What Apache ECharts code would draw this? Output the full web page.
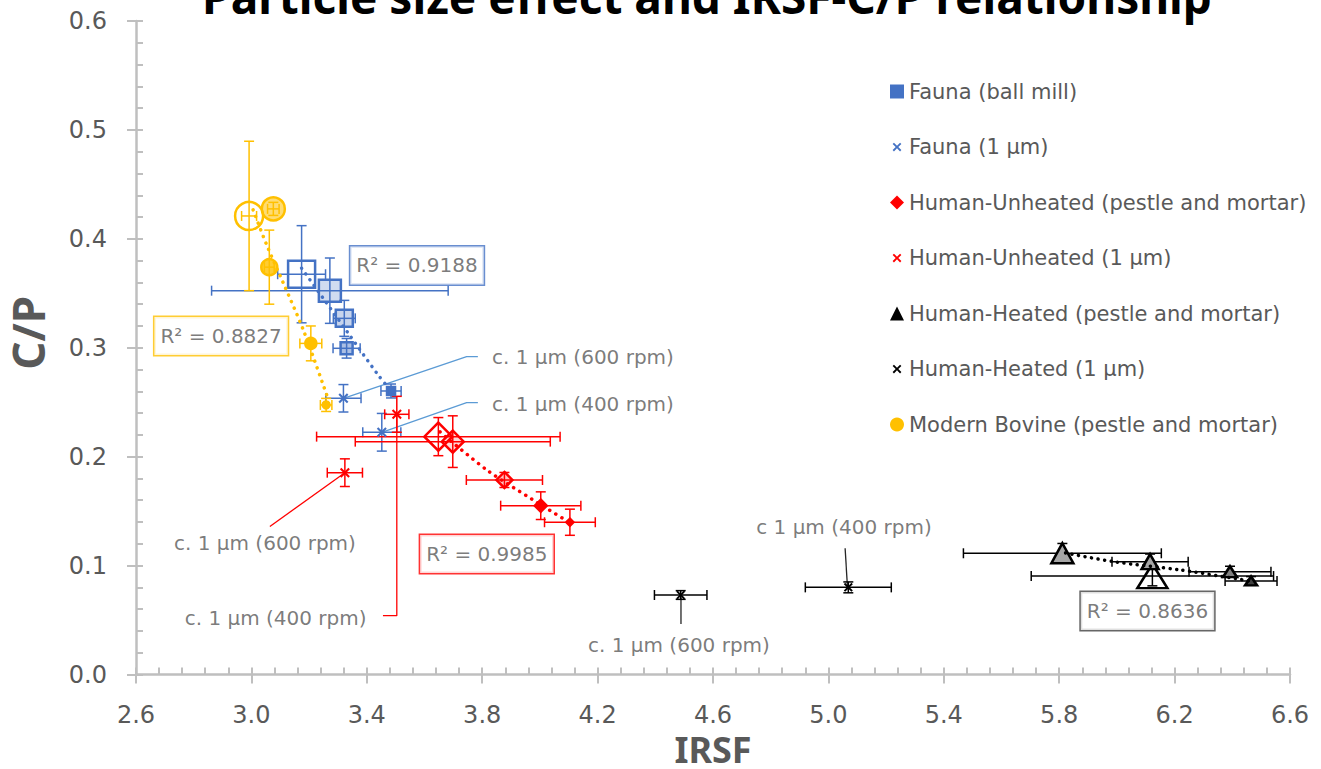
<!DOCTYPE html>
<html>
<head>
<meta charset="utf-8">
<title>Particle size effect and IRSF-C/P relationship</title>
<script src="https://cdn.jsdelivr.net/npm/echarts@6.0.0/dist/echarts.min.js"></script>
<style>
html, body { margin: 0; padding: 0; background: #fff; }
#container { width: 1321px; height: 769px; }
</style>
</head>
<body>
<div id="container"></div>
<script>
// rows are [IRSF, C/P, IRSF error, C/P error]
var faunaBallMill = [
    [3.174, 0.3675, 0.083, 0.0446],
    [3.272, 0.3524, 0.410, 0.030],
    [3.322, 0.327, 0.038, 0.0165],
    [3.330, 0.2995, 0.047, 0.009],
    [3.484, 0.2603, 0.035, 0.0064]
];
var fauna1um = [
    [3.319, 0.2536, 0.061, 0.0126],
    [3.452, 0.2224, 0.066, 0.0173]
];
var unheatedPM = [
    [3.648, 0.2184, 0.422, 0.0175],
    [3.698, 0.2138, 0.338, 0.0237],
    [3.877, 0.1786, 0.132, 0.0069],
    [4.003, 0.155, 0.139, 0.0127],
    [4.104, 0.1398, 0.088, 0.012]
];
var unheated1um = [
    [3.504, 0.2389, 0.042, 0.0165],
    [3.324, 0.1853, 0.061, 0.0127]
];
var heatedPM = [
    [5.811, 0.1113, 0.343, 0.009],
    [6.123, 0.0904, 0.420, 0.009],
    [6.115, 0.1036, 0.132, 0.007],
    [6.392, 0.0944, 0.142, 0.005],
    [6.465, 0.0859, 0.090, 0.004]
];
var heated1um = [
    [4.488, 0.073, 0.091, 0.004],
    [5.069, 0.080, 0.149, 0.005]
];
var bovinePM = [
    [2.992, 0.421, 0.026, 0.0686],
    [3.076, 0.4275, 0.020, 0.006],
    [3.062, 0.374, 0.017, 0.034],
    [3.206, 0.304, 0.038, 0.016],
    [3.259, 0.2475, 0.020, 0.006]
];

// dotted trend lines
var faunaTrend = [[3.174, 0.373], [3.248, 0.3457], [3.335, 0.3136], [3.439, 0.2751], [3.487, 0.2595]];
var unheatedTrend = [[3.654, 0.2227], [3.816, 0.1878], [3.977, 0.1602], [4.098, 0.1403]];
var heatedTrend = [[5.822, 0.1116], [5.988, 0.1036], [6.219, 0.096], [6.461, 0.0859]];
var bovineTrend = [[3.006, 0.4266], [3.053, 0.3944], [3.111, 0.3592], [3.18, 0.3163], [3.261, 0.2567]];

var r2Texts = ['R² = 0.9188', 'R² = 0.8827', 'R² = 0.9985', 'R² = 0.8636'];
var r2Anchors = [[3.574, 0.3756], [2.895, 0.3108], [3.816, 0.1107], [6.106, 0.0583]];

var noteTexts = ['c. 1 µm (600 rpm)', 'c. 1 µm (400 rpm)', 'c. 1 µm (600 rpm)', 'c. 1 µm (400 rpm)', 'c. 1 µm (600 rpm)', 'c 1 µm (400 rpm)'];
var noteAnchors = [[3.834, 0.2916], [3.834, 0.2484], [3.047, 0.1208], [3.084, 0.0519], [4.482, 0.0271], [5.054, 0.1354]];

var leaderFauna600 = [[3.319, 0.2536], [3.746, 0.2918], [3.785, 0.2918]];
var leaderFauna400 = [[3.452, 0.2224], [3.746, 0.2496], [3.785, 0.2496]];
var leaderUnheated600 = [[3.324, 0.1853], [3.064, 0.1359]];
var leaderUnheated400 = [[3.504, 0.2389], [3.504, 0.054], [3.456, 0.054]];
var leaderHeated600 = [[4.489, 0.071], [4.489, 0.0464]];
var leaderHeated400 = [[5.058, 0.1159], [5.066, 0.0805]];

var blue = '#4472C4', red = '#FF0000', black = '#000000', gold = '#FFC000';
var leaderBlue = '#5B9BD5', textGrey = '#595959', axisGrey = '#BFBFBF';
var none = 'rgba(255,255,255,0)';
var xMark = 'path://M0,1.5L1.5,0L5,3.5L8.5,0L10,1.5L6.5,5L10,8.5L8.5,10L5,6.5L1.5,10L0,8.5L3.5,5Z';
var xMarkSmall = 'path://M-3,-3M13,13M0,1.5L1.5,0L5,3.5L8.5,0L10,1.5L6.5,5L10,8.5L8.5,10L5,6.5L1.5,10L0,8.5L3.5,5Z';
var labelFont = 'DejaVu Sans';

function markerSeries(name, rows, symbol, sizes, fills, color, bw) {
    return {
        name: name,
        type: 'scatter',
        z: 4,
        symbol: symbol,
        silent: true,
        itemStyle: { borderColor: color, borderWidth: bw, opacity: 1 },
        data: rows.map(function (r, i) {
            return { value: [r[0], r[1]], symbolSize: sizes[i], itemStyle: { color: fills[i] } };
        })
    };
}

function errorBars(rows, color, cap) {
    return {
        type: 'custom',
        z: 3,
        silent: true,
        data: rows,
        encode: { x: 0, y: 1 },
        renderItem: function (params, api) {
            var x = api.value(0), y = api.value(1), xe = api.value(2), ye = api.value(3);
            var c = api.coord([x, y]);
            var l = api.coord([x - xe, y])[0], r = api.coord([x + xe, y])[0];
            var t = api.coord([x, y + ye])[1], b = api.coord([x, y - ye])[1];
            var st = { stroke: color, lineWidth: 1.5, fill: null };
            var seg = function (x1, y1, x2, y2) {
                return { type: 'line', shape: { x1: x1, y1: y1, x2: x2, y2: y2 }, style: st };
            };
            return {
                type: 'group',
                children: [
                    seg(l, c[1], r, c[1]),
                    seg(l, c[1] - cap, l, c[1] + cap),
                    seg(r, c[1] - cap, r, c[1] + cap),
                    seg(c[0], t, c[0], b),
                    seg(c[0] - cap, t, c[0] + cap, t),
                    seg(c[0] - cap, b, c[0] + cap, b)
                ]
            };
        }
    };
}

function trendLine(pts, color, gap) {
    return {
        type: 'line', data: pts, symbol: 'none', silent: true, z: 6, smooth: 0.3,
        lineStyle: { color: color, width: 3.5, type: [0.1, gap], cap: 'round' }
    };
}

function leader(pts, color) {
    return {
        type: 'line', data: pts, symbol: 'none', silent: true, z: 2,
        lineStyle: { color: color, width: 1.3 }
    };
}

var series = [
    errorBars(faunaBallMill, blue, 5),
    errorBars(fauna1um, blue, 5),
    errorBars(unheatedPM, red, 5),
    errorBars(unheated1um, red, 5),
    errorBars(heatedPM, black, 5),
    errorBars(heated1um, black, 5),
    errorBars(bovinePM, gold, 5),

    markerSeries('Fauna (ball mill)', faunaBallMill, 'rect', [27, 22, 17, 12, 8],
        [none, 'rgba(68,114,196,0.25)', 'rgba(68,114,196,0.3)', 'rgba(68,114,196,0.45)', blue], blue, 2.5),
    markerSeries('Fauna (1 µm)', fauna1um, xMark, [10, 10], [blue, blue], blue, 0),
    markerSeries('Human-Unheated (pestle and mortar)', unheatedPM, 'diamond', [28, 22, 16, 12, 7],
        [none, 'rgba(255,0,0,0.15)', 'rgba(255,0,0,0.25)', red, red], red, 2.5),
    markerSeries('Human-Unheated (1 µm)', unheated1um, xMark, [10, 10], [red, red], red, 0),
    markerSeries('Human-Heated (pestle and mortar)', heatedPM, 'triangle', [[22, 20], [30, 24], [17, 15], [14, 11], [12, 9]],
        ['#a6a6a6', none, '#a6a6a6', '#7f7f7f', '#404040'], black, 2.5),
    markerSeries('Human-Heated (1 µm)', heated1um, xMark, [9, 9], [black, black], black, 0),
    markerSeries('Modern Bovine (pestle and mortar)', bovinePM, 'circle', [28, 23, 16, 11, 7],
        [none, 'rgba(255,192,0,0.55)', 'rgba(255,192,0,0.8)', gold, gold], gold, 2.5),

    trendLine(faunaTrend, blue, 7),
    trendLine(unheatedTrend, red, 7),
    trendLine(heatedTrend, black, 6.5),
    trendLine(bovineTrend, gold, 7),

    leader(leaderFauna600, leaderBlue),
    leader(leaderFauna400, leaderBlue),
    leader(leaderUnheated600, red),
    leader(leaderUnheated400, red),
    leader(leaderHeated600, '#262626'),
    leader(leaderHeated400, '#262626'),

    {
        type: 'scatter', silent: true, z: 7, symbolSize: 0,
        data: noteTexts.map(function (t, i) {
            return { name: t, value: noteAnchors[i], label: { position: i < 2 ? 'right' : 'inside' } };
        }),
        label: { show: true, formatter: '{b}', distance: 0, color: textGrey, fontFamily: labelFont, fontSize: 20 }
    },
    {
        type: 'scatter', silent: true, z: 8, symbolSize: 0,
        data: r2Texts.map(function (t, i) {
            return { name: t, value: r2Anchors[i], label: { borderColor: [blue, gold, red, '#404040'][i] } };
        }),
        label: {
            show: true, position: 'inside', formatter: '{b}', color: textGrey, fontFamily: labelFont, fontSize: 20,
            lineHeight: 20, backgroundColor: '#fff', borderWidth: 1.5, padding: [9, 6, 9, 6]
        }
    }
];

var chart = echarts.init(document.getElementById('container'), null, { renderer: 'svg' });

chart.setOption({
    animation: false,
    backgroundColor: '#fff',
    graphic: [{
        type: 'text', x: 707, y: -4, silent: true,
        style: {
            text: 'Particle size effect and IRSF-C/P relationship',
            fill: '#000', fontFamily: 'Noto Sans', fontWeight: 'bold', fontSize: 46,
            align: 'center', verticalAlign: 'middle'
        }
    }],
    legend: {
        orient: 'vertical', left: 885, top: 76, itemWidth: 14, itemHeight: 14, itemGap: 34.5,
        selectedMode: false,
        textStyle: { fontFamily: labelFont, fontSize: 21, lineHeight: 21, color: textGrey },
        data: [
            { name: 'Fauna (ball mill)', icon: 'rect', itemStyle: { color: blue, borderWidth: 0 } },
            { name: 'Fauna (1 µm)', icon: xMarkSmall, itemStyle: { color: blue, borderWidth: 0 } },
            { name: 'Human-Unheated (pestle and mortar)', icon: 'diamond', itemStyle: { color: red, borderWidth: 0 } },
            { name: 'Human-Unheated (1 µm)', icon: xMarkSmall, itemStyle: { color: red, borderWidth: 0 } },
            { name: 'Human-Heated (pestle and mortar)', icon: 'triangle', itemStyle: { color: black, borderWidth: 0 } },
            { name: 'Human-Heated (1 µm)', icon: xMarkSmall, itemStyle: { color: black, borderWidth: 0 } },
            { name: 'Modern Bovine (pestle and mortar)', icon: 'circle', itemStyle: { color: gold, borderWidth: 0 } }
        ]
    },
    grid: { left: 136, right: 31, top: 21, bottom: 94.5, outerBoundsMode: 'none' },
    xAxis: [{
        type: 'value', min: 2.6, max: 6.6, interval: 0.4, position: 'bottom',
        name: 'IRSF', nameLocation: 'middle', nameGap: 56,
        nameTextStyle: { fontFamily: 'Noto Sans', fontWeight: 'bold', fontSize: 36, lineHeight: 16, color: textGrey },
        axisLine: { lineStyle: { color: axisGrey, width: 2.5 } },
        axisTick: { length: 9, lineStyle: { color: axisGrey, width: 2 } },
        axisLabel: { margin: 28, fontFamily: labelFont, fontSize: 24, color: textGrey,
            formatter: function (v) { return v.toFixed(1); } },
        splitLine: { show: false }
    }, {
        type: 'value', min: 2.6, max: 6.6, interval: 0.08, position: 'bottom',
        axisLine: { show: false },
        axisTick: { inside: true, length: 7, lineStyle: { color: axisGrey, width: 2 } },
        axisLabel: { show: false },
        splitLine: { show: false }
    }],
    yAxis: [{
        type: 'value', min: 0, max: 0.6, interval: 0.1, position: 'left',
        name: 'C/P', nameLocation: 'middle', nameGap: 91,
        nameTextStyle: { fontFamily: 'Noto Sans', fontWeight: 'bold', fontSize: 44, lineHeight: 34, color: textGrey, padding: [0, 0, 0, 30] },
        axisLine: { show: true, lineStyle: { color: axisGrey, width: 2.5 } },
        axisTick: { show: true, length: 9, lineStyle: { color: axisGrey, width: 2 } },
        axisLabel: { margin: 29, fontFamily: labelFont, fontSize: 24, color: textGrey,
            formatter: function (v) { return v.toFixed(1); } },
        splitLine: { show: false }
    }, {
        type: 'value', min: 0, max: 0.6, interval: 0.02, position: 'left',
        axisLine: { show: false },
        axisTick: { show: true, inside: true, length: 7, lineStyle: { color: axisGrey, width: 2 } },
        axisLabel: { show: false },
        splitLine: { show: false }
    }],
    series: series
});
</script>
</body>
</html>
